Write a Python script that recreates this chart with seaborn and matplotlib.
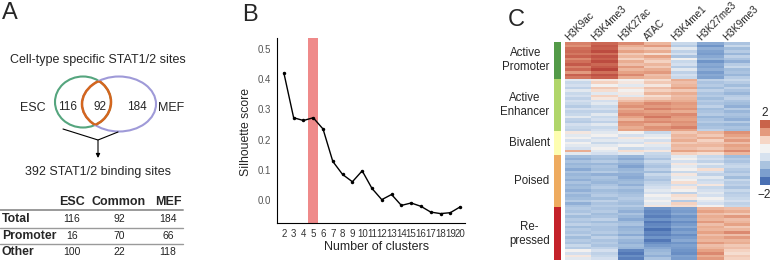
import matplotlib
matplotlib.use("Agg")
import matplotlib.pyplot as plt
import numpy as np
import pandas as pd
import seaborn as sns
from matplotlib.patches import Ellipse
from matplotlib.colors import LinearSegmentedColormap, ListedColormap
import matplotlib.colorbar as mcolorbar

# ---------------- data ----------------
# panel A
venn_counts = {"ESC": 116, "Common": 92, "MEF": 184}
table_cols = ["ESC", "Common", "MEF"]
table_rows = ["Total", "Promoter", "Other"]
table_total = [116, 92, 184]
table_promoter = [16, 70, 66]
table_other = [100, 22, 118]

# panel B
n_clusters = [2, 3, 4, 5, 6, 7, 8, 9, 10, 11, 12, 13, 14, 15, 16, 17, 18, 19, 20]
silhouette = [0.420, 0.272, 0.263, 0.272, 0.235, 0.128, 0.085, 0.061, 0.097,
              0.039, 0.002, 0.019, -0.017, -0.009, -0.020, -0.039, -0.044,
              -0.041, -0.022]
chosen_k = 5

# panel C
marks = ["H3K9ac", "H3K4me3", "H3K27ac", "ATAC", "H3K4me1", "H3K27me3", "H3K9me3"]
cluster_names = ["Active\nPromoter", "Active\nEnhancer", "Bivalent", "Poised", "Re-\npressed"]
cluster_colors = ["#539a48", "#b0d56a", "#fdfdb0", "#eeab5f", "#c4222a"]

active_promoter = [
    [1.2, 1.5, 1.1, 0.6, -0.3, -1.0, -0.6],
    [1.0, 1.7, 0.7, 0.9, -0.5, -1.3, -0.3],
    [1.4, 1.6, 0.5, 0.4, -0.1, -0.9, -0.7],
    [1.5, 1.9, 0.8, 0.7, -0.4, -1.1, -0.5],
    [1.3, 1.4, 0.4, 0.2, -0.2, -1.2, -0.8],
    [1.6, 1.8, 0.6, 0.8, -0.6, -1.0, -0.4],
    [1.1, 1.6, 0.3, 0.5, 0.0, -0.8, -0.6],
    [1.4, 1.9, 0.7, 0.3, -0.3, -1.3, -0.9],
    [1.7, 1.5, 0.5, 0.6, -0.2, -1.0, -0.5],
    [1.2, 1.7, 0.9, 0.4, -0.5, -1.1, -0.3],
    [1.5, 2.0, 0.6, 0.7, -0.1, -0.9, -0.7],
    [0.9, 1.4, 0.8, 0.9, -0.4, -1.2, -0.6],
    [1.6, 1.8, 1.1, 0.5, -0.2, -1.0, -0.8],
    [1.3, 1.6, 0.7, 0.6, -0.3, -1.1, -0.5],
]
active_enhancer = [
    [-0.1, 0.1, 0.0, 0.2, 0.7, -0.4, -0.3],
    [-0.3, 0.3, 0.1, 0.4, 0.5, -0.6, -0.5],
    [-0.2, 0.0, -0.1, 0.1, 0.6, -0.5, -0.7],
    [-0.4, 0.4, 0.2, 0.5, 0.8, -0.7, -0.4],
    [-0.1, 0.2, 0.0, 0.3, 0.4, -0.4, -0.6],
    [-0.3, -0.1, 0.1, 0.6, 0.7, -0.6, -0.8],
    [-0.2, 0.3, -0.1, 0.2, 0.5, -0.5, -0.5],
    [-0.4, 0.1, 0.3, 0.4, 0.6, -0.7, -0.4],
    [-0.2, -0.2, 0.5, 0.7, 0.7, -0.5, -0.6],
    [-0.3, -0.1, 0.8, 1.1, 0.9, -0.6, -0.7],
    [-0.5, -0.3, 1.0, 0.9, 0.8, -0.4, -0.9],
    [-0.2, -0.2, 0.7, 1.2, 1.0, -0.7, -0.5],
    [-0.4, -0.4, 0.9, 0.8, 0.7, -0.6, -0.8],
    [-0.3, -0.1, 1.1, 1.0, 1.1, -0.5, -0.6],
    [-0.1, -0.3, 0.8, 1.3, 0.9, -0.8, -0.7],
    [-0.4, -0.2, 0.6, 0.9, 0.8, -0.6, -0.9],
    [-0.5, -0.4, 1.0, 1.1, 1.0, -0.5, -0.5],
    [-0.2, -0.1, 0.9, 0.7, 0.9, -0.7, -0.8],
    [-0.3, -0.3, 0.7, 1.0, 1.2, -0.6, -0.6],
    [-0.4, -0.2, 0.8, 0.9, 0.8, -0.4, -0.7],
]
bivalent = [
    [0.1, -0.1, 0.0, -0.3, 0.4, 0.6, 1.0],
    [-0.1, 0.0, -0.2, -0.1, 0.6, 0.4, 0.8],
    [0.0, -0.2, 0.1, 0.0, 0.5, 0.7, 0.6],
    [-0.2, -0.1, -0.1, -0.2, 0.7, 0.3, 0.9],
    [0.0, -0.3, -0.2, 0.1, 0.4, 0.5, 0.5],
    [-0.1, -0.1, 0.0, -0.1, 0.6, 0.6, 0.8],
    [-0.2, 0.0, -0.3, -0.2, 0.5, 0.4, 0.7],
    [0.7, -0.1, 0.2, 0.1, 0.8, 0.7, 1.1],
    [-0.1, -0.2, -0.1, -0.3, 0.3, 0.2, 0.6],
]
poised = [
    [-0.7, -0.6, -0.8, -0.4, -0.1, -0.3, -0.7],
    [-0.9, -0.7, -1.0, -0.6, 0.0, -0.2, -0.5],
    [-0.6, -0.5, -0.7, -0.3, -0.2, -0.4, -0.6],
    [-0.8, -0.8, -0.9, -0.5, 0.1, -0.1, -0.4],
    [-0.7, -0.6, -1.1, -0.6, -0.1, -0.3, -0.3],
    [-1.0, -0.7, -0.8, -0.4, 0.0, 0.2, -0.5],
    [-0.6, -0.5, -0.7, -0.7, -0.3, -0.2, -0.6],
    [-0.8, -0.9, -0.9, -0.3, 0.1, -0.4, -0.4],
    [-0.7, -0.6, -1.0, -0.5, -0.1, -0.1, -0.7],
    [-0.9, -0.7, -0.8, -0.6, 0.0, -0.3, -0.3],
    [-0.6, -0.8, -0.7, -0.4, 0.2, -0.2, -0.5],
    [-0.8, -0.6, -0.9, -0.3, -0.2, 0.1, -0.4],
    [-0.7, -0.5, -0.6, -0.2, 0.1, -0.3, -0.6],
    [-0.9, -0.7, -0.8, -0.1, 0.0, -0.2, -0.3],
    [-0.6, -0.6, -0.7, -0.2, -0.4, -0.1, -0.5],
    [-0.8, -0.5, -0.6, 0.0, 0.2, -0.2, -0.4],
    [-0.7, -0.7, -0.5, -0.1, 0.1, 0.0, -0.3],
    [-0.5, -0.4, -0.6, 0.0, -0.5, -0.1, -0.2],
    [-0.9, -0.6, -0.7, -0.1, 0.3, -0.2, -0.4],
    [-0.6, -0.5, -0.5, 0.1, 0.2, 0.0, -0.3],
]
repressed = [
    [-0.5, -0.6, -0.7, -1.3, -1.1, 0.6, 0.5],
    [-0.6, -0.5, -0.9, -1.5, -1.2, 0.8, 0.7],
    [-0.4, -0.7, -0.6, -1.4, -1.0, 0.5, 0.4],
    [-0.7, -0.6, -0.8, -1.6, -1.3, 0.7, 0.9],
    [-0.5, -0.4, -1.0, -1.3, -1.1, 0.6, 0.5],
    [-0.6, -0.7, -0.7, -1.7, -1.4, 0.9, 0.6],
    [-0.4, -0.5, -0.6, -1.5, -1.2, 0.5, 0.8],
    [-0.7, -0.6, -0.9, -1.4, -1.0, 0.7, 0.4],
    [-0.5, -0.6, -0.8, -1.8, -1.3, 0.6, 0.6],
    [-0.6, -0.5, -0.7, -1.5, -1.1, 0.8, 1.1],
    [-0.4, -0.7, -1.0, -1.6, -1.4, 0.5, 0.5],
    [-0.7, -0.4, -0.6, -1.3, -1.2, 0.7, 0.9],
    [-0.5, -0.6, -0.8, -1.7, -1.0, 0.6, 0.6],
    [-0.6, -0.5, -0.9, -1.4, -1.3, 0.9, 0.7],
    [-0.3, -0.6, -0.7, -1.2, -1.1, 0.5, 0.4],
    [-0.5, -0.4, -0.8, -1.0, -1.2, 0.6, 0.5],
    [0.0, -0.2, -1.5, -0.8, -1.3, 0.8, 0.3],
    [-0.2, -0.4, -1.7, -0.7, -1.4, 1.1, 0.2],
    [0.1, -0.3, -1.4, -0.9, -1.1, 0.7, 0.4],
    [-0.1, -0.2, -1.6, -0.6, -1.2, 0.9, 0.3],
]
clusters = [active_promoter, active_enhancer, bivalent, poised, repressed]

cbar_colors = ["#4a70b3", "#7c9fce", "#aac3df", "#d7e2ef",
               "#f3f3f3", "#f6d6c6", "#e49a7e", "#c9634a"]

# ---------------- style ----------------
sns.set_style("white")
plt.rcParams["font.family"] = ["Liberation Sans", "DejaVu Sans"]

W, H = 773, 261
fig = plt.figure(figsize=(W / 100, H / 100), dpi=100)


def box(x0, y0, x1, y1):
    # pixel box (top-left origin) -> figure fraction rect
    return [x0 / W, 1 - y1 / H, (x1 - x0) / W, (y1 - y0) / H]


# ---------------- panel A ----------------
axA = fig.add_axes(box(0, 0, 200, 261))
axA.set_xlim(0, 200)
axA.set_ylim(261, 0)
axA.axis("off")
axA.text(2, 13, "A", fontsize=17, va="center", ha="left")
axA.text(98, 60, "Cell-type specific STAT1/2 sites", fontsize=9, ha="center", va="center")

green = Ellipse((83, 102), 56, 51, fill=False, ec="#55a57e", lw=1.5)
purple = Ellipse((119, 104), 74, 55, fill=False, ec="#9f9ad8", lw=1.5)
axA.add_patch(green)
axA.add_patch(purple)
lens_a = Ellipse((83, 102), 56, 51, fill=False, ec="#d4661e", lw=1.8)
lens_b = Ellipse((119, 104), 74, 55, fill=False, ec="#d4661e", lw=1.8)
clip_a = Ellipse((119, 104), 74, 55, fill=False, ec="none", transform=axA.transData)
clip_b = Ellipse((83, 102), 56, 51, fill=False, ec="none", transform=axA.transData)
axA.add_patch(lens_a)
axA.add_patch(lens_b)
lens_a.set_clip_path(clip_a)
lens_b.set_clip_path(clip_b)

axA.text(33, 108, "ESC", fontsize=9, ha="center", va="center")
axA.text(68, 107, str(venn_counts["ESC"]), fontsize=8.5, ha="center", va="center")
axA.text(100, 107, str(venn_counts["Common"]), fontsize=8.5, ha="center", va="center")
axA.text(137, 107, str(venn_counts["MEF"]), fontsize=8.5, ha="center", va="center")
axA.text(171, 108, "MEF", fontsize=9, ha="center", va="center")

axA.plot([63, 98, 118], [129, 140, 132], color="black", lw=0.8)
axA.annotate("", xy=(98, 158), xytext=(98, 140),
             arrowprops=dict(arrowstyle="-|>", color="black", lw=0.8,
                             mutation_scale=6, shrinkA=0, shrinkB=0))
axA.text(98, 172, "392 STAT1/2 binding sites", fontsize=9, ha="center", va="center")

col_x = [72, 119, 168]
for cx, name in zip(col_x, table_cols):
    axA.text(cx, 202, name, fontsize=9, fontweight="bold", ha="center", va="center")
row_y = [219, 236, 252]
for ry, name, vals in zip(row_y, table_rows, [table_total, table_promoter, table_other]):
    axA.text(2, ry, name, fontsize=8.8, fontweight="bold", ha="left", va="center")
    for cx, v in zip(col_x, vals):
        axA.text(cx, ry, str(v), fontsize=7.5, ha="center", va="center", color="#222222")
for ly, lw in [(210, 1.4), (228, 1.0), (244, 1.0)]:
    axA.plot([0, 183], [ly, ly], color="#9a9a9a", lw=lw)

# ---------------- panel B ----------------
axB = fig.add_axes(box(277, 38, 465, 223))
axB.axvspan(chosen_k - 0.5, chosen_k + 0.5, color="#ef8a8a", lw=0)
sns.lineplot(x=n_clusters, y=silhouette, ax=axB, color="black", lw=1,
             marker="o", markersize=2.5, markeredgewidth=0)
axB.set_xlim(1.3, 20.5)
axB.set_ylim(-0.075, 0.535)
axB.set_xticks(n_clusters)
axB.set_xticklabels([str(k) for k in n_clusters], fontsize=7, color="#333333")
axB.set_yticks([0.0, 0.1, 0.2, 0.3, 0.4, 0.5])
axB.set_yticklabels(["0.0", "0.1", "0.2", "0.3", "0.4", "0.5"], fontsize=7, color="#555555")
axB.tick_params(axis="both", length=2.5, width=0.6, color="#555555", pad=1.5)
sns.despine(ax=axB)
for s in ["left", "bottom"]:
    axB.spines[s].set_linewidth(0.8)
    axB.spines[s].set_color("black")
fig.text(246 / W, 1 - 132 / H, "Silhouette score", rotation=90, fontsize=8.8,
         ha="center", va="center")
fig.text(377 / W, 1 - 247 / H, "Number of clusters", fontsize=9, ha="center", va="center")
fig.text(250 / W, 1 - 15 / H, "B", fontsize=17, ha="center", va="center")

# ---------------- panel C ----------------
rows = []
codes = []
for i, c in enumerate(clusters):
    rows.extend(c)
    codes.extend([i] * len(c))
mat = pd.DataFrame(rows, columns=marks)

cmap = LinearSegmentedColormap.from_list(
    "muted_rdbu",
    [(0.0, "#3d63aa"), (0.17, "#6f94c8"), (0.33, "#a3bedd"), (0.45, "#d3dfee"),
     (0.5, "#f2f1f0"), (0.56, "#f6d8c9"), (0.7, "#e6a386"), (0.85, "#d0705a"),
     (1.0, "#b8453b")])

axC = fig.add_axes(box(565, 42, 750, 260))
sns.heatmap(mat, ax=axC, cmap=cmap, vmin=-2, vmax=2, cbar=False,
            xticklabels=marks, yticklabels=False)
axC.xaxis.tick_top()
axC.set_xticks(np.arange(len(marks)) + 0.15)
axC.set_xticklabels(marks, rotation=45, ha="left", va="baseline",
                    rotation_mode="anchor", fontsize=7.2)
axC.tick_params(axis="x", length=0, pad=0.5)

axS = fig.add_axes(box(554, 42, 561, 260))
sns.heatmap(pd.DataFrame({"c": codes}), ax=axS, cmap=ListedColormap(cluster_colors),
            vmin=-0.5, vmax=len(cluster_colors) - 0.5, cbar=False,
            xticklabels=False, yticklabels=False)

start = 0
for name, c in zip(cluster_names, clusters):
    mid = start + len(c) / 2
    axC.text(-0.58, mid, name, fontsize=8.3, ha="right", va="center",
             multialignment="center")
    start += len(c)

axCB = fig.add_axes(box(760, 120, 770, 185))
mcolorbar.ColorbarBase(axCB, cmap=ListedColormap(cbar_colors), orientation="vertical")
axCB.set_yticks([])
axCB.set_xticks([])
axCB.set_frame_on(False)
fig.text(765 / W, 1 - 113 / H, "2", fontsize=8.5, ha="center", va="center")
fig.text(764 / W, 1 - 195 / H, "\u22122", fontsize=8.5, ha="center", va="center")
fig.text(516 / W, 1 - 20 / H, "C", fontsize=17, ha="center", va="center")

fig.savefig("out.png", dpi=100)
